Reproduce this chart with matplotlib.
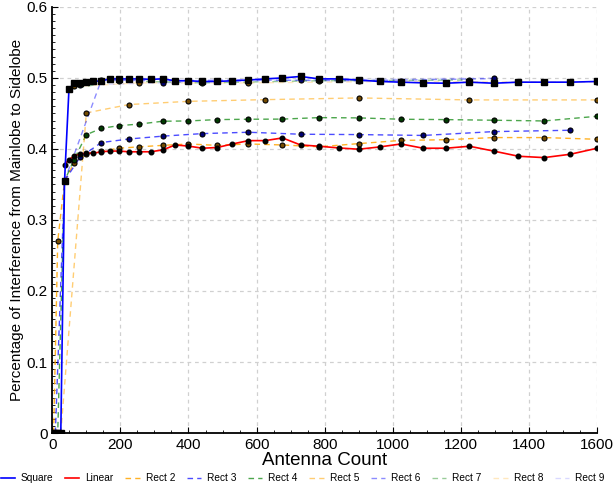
import matplotlib
matplotlib.use("Agg")
import matplotlib.pyplot as plt
from matplotlib.ticker import MultipleLocator
from matplotlib.lines import Line2D
import numpy as np

plt.rcParams['font.family'] = ['Liberation Sans', 'DejaVu Sans']

# ---- data ----
square_x = [1, 4, 9, 16, 25, 36, 49, 64, 81, 100, 121, 144, 169, 196, 225, 256, 289, 324, 361, 400,
            441, 484, 529, 576, 625, 676, 729, 784, 841, 900, 961, 1024, 1089, 1156, 1225, 1296,
            1369, 1444, 1521, 1600]
square_y = [0, 0, 0, 0, 0, 0.355, 0.484, 0.493, 0.493, 0.494, 0.495, 0.496, 0.4986, 0.4986, 0.4986,
            0.4986, 0.498, 0.4986, 0.496, 0.496, 0.495, 0.495, 0.496, 0.497, 0.4986, 0.500, 0.502,
            0.4986, 0.4986, 0.497, 0.495, 0.494, 0.493, 0.4925, 0.494, 0.4925, 0.494, 0.494, 0.494, 0.495]

linear_x = [36, 49, 64, 81, 100, 121, 144, 169, 196, 225, 256, 289, 324, 361, 400, 441, 484, 529,
            576, 625, 676, 729, 784, 841, 900, 961, 1024, 1089, 1156, 1225, 1296, 1369, 1444, 1521, 1600]
linear_y = [0.378, 0.385, 0.390, 0.393, 0.394, 0.394, 0.396, 0.397, 0.397, 0.396, 0.396, 0.396, 0.3986,
            0.4056, 0.404, 0.401, 0.402, 0.407, 0.4117, 0.4117, 0.4155, 0.4056, 0.4038, 0.4014, 0.3996,
            0.4028, 0.407, 0.401, 0.401, 0.4038, 0.397, 0.3897, 0.3878, 0.3925, 0.401]

rect2_x = [4, 16, 36, 64, 100, 144, 196, 256, 324, 400, 484, 576, 676, 784, 900, 1024, 1156, 1296, 1444, 1600]
rect2_y = [0, 0.27, 0.355, 0.380, 0.393, 0.397, 0.401, 0.403, 0.405, 0.407, 0.405, 0.407, 0.4056, 0.403,
           0.4075, 0.412, 0.413, 0.416, 0.416, 0.4136]

rect3_x = [9, 36, 81, 144, 225, 324, 441, 576, 729, 900, 1089, 1296, 1521]
rect3_y = [0, 0.355, 0.388, 0.409, 0.414, 0.418, 0.4216, 0.4235, 0.4207, 0.4202, 0.419, 0.4244, 0.4263]

rect4_x = [4, 16, 36, 64, 100, 144, 196, 256, 324, 400, 484, 576, 676, 784, 900, 1024, 1156, 1296, 1444, 1600]
rect4_y = [0, 0, 0.355, 0.385, 0.420, 0.429, 0.4328, 0.435, 0.439, 0.4394, 0.4413, 0.4418, 0.442, 0.4441,
           0.4437, 0.4418, 0.4413, 0.4404, 0.4394, 0.446]

rect5_x = [25, 100, 225, 400, 625, 900, 1225, 1600]
rect5_y = [0, 0.4507, 0.4625, 0.467, 0.4694, 0.4718, 0.469, 0.469]

rect6_x = [36, 144, 324, 576, 900, 1296]
rect6_y = [0.355, 0.497, 0.496, 0.497, 0.496, 0.499]

rect7_x = [49, 196, 441, 784, 1225]
rect7_y = [0.484, 0.496, 0.493, 0.496, 0.497]

rect8_x = [64, 256, 576, 1024, 1600]
rect8_y = [0.488, 0.493, 0.493, 0.495, 0.494]

rect9_x = [81, 324, 729, 1296]
rect9_y = [0.490, 0.493, 0.497, 0.500]

x_ticks = [0, 200, 400, 600, 800, 1000, 1200, 1400, 1600]
y_ticks = [0, 0.1, 0.2, 0.3, 0.4, 0.5, 0.6]
y_tick_labels = ["0", "0.1", "0.2", "0.3", "0.4", "0.5", "0.6"]

fig = plt.figure(figsize=(6.15, 4.91), dpi=100)
ax = fig.add_axes([0.085, 0.118, 0.886, 0.868])

ax.plot(square_x, square_y, color='#0000ff', lw=1.2, marker='s', ms=3.8, mfc='black', mec='black',
        zorder=5)
ax.plot(linear_x, linear_y, color='#ff0000', lw=1.2, marker='o', ms=3.3, mfc='black', mec='black',
        zorder=4)

rects = [
    ('Rect 2', rect2_x, rect2_y, '#ffa500', 0.85),
    ('Rect 3', rect3_x, rect3_y, '#0000ff', 0.7),
    ('Rect 4', rect4_x, rect4_y, '#008000', 0.7),
    ('Rect 5', rect5_x, rect5_y, '#ffa500', 0.55),
    ('Rect 6', rect6_x, rect6_y, '#0000ff', 0.45),
    ('Rect 7', rect7_x, rect7_y, '#008000', 0.4),
    ('Rect 8', rect8_x, rect8_y, '#ffa500', 0.25),
    ('Rect 9', rect9_x, rect9_y, '#0000ff', 0.15),
]
handles = [Line2D([], [], color='#0000ff', lw=1.2),
           Line2D([], [], color='#ff0000', lw=1.2)]
labels = ['Square', 'Linear']
for name, xs, ys, c, a in rects:
    rgba = matplotlib.colors.to_rgba(c, a)
    ax.plot(xs, ys, color=rgba, lw=1.0, ls=(0, (4, 3)), zorder=3)
    base = np.array(matplotlib.colors.to_rgb(c))
    face = tuple(base * 0.45)
    ax.plot(xs, ys, ls='none', marker='o', ms=3.6, mfc=face, mec='black', mew=0.8, zorder=3.5)
    handles.append(Line2D([], [], color=rgba, lw=1.0, ls=(0, (4, 3))))
    labels.append(name)

ax.set_xlim(0, 1600)
ax.set_ylim(0, 0.6)
ax.set_xticks(x_ticks)
ax.set_yticks(y_ticks)
ax.set_yticklabels(y_tick_labels)
ax.xaxis.set_minor_locator(MultipleLocator(50))
ax.yaxis.set_minor_locator(MultipleLocator(0.01))
ax.tick_params(which='both', direction='in', labelsize=11)
ax.tick_params(which='major', length=4)
ax.tick_params(which='minor', length=2)
ax.grid(True, which='major', color='#d0d0d0', ls=(0, (3, 3)), lw=0.9)
ax.set_axisbelow(True)
for s in ['top', 'right']:
    ax.spines[s].set_visible(False)
for s in ['left', 'bottom']:
    ax.spines[s].set_linewidth(1.3)

ax.set_xlabel('Antenna Count', fontsize=13.5, labelpad=0)
ax.set_ylabel('Percentage of Interference from Mainlobe to Sidelobe', fontsize=11, labelpad=2)

fig.legend(handles, labels, loc='center', bbox_to_anchor=(0.492, 0.026), ncol=10, frameon=False,
           fontsize=7.3, handlelength=1.4, handletextpad=0.6, columnspacing=1.15)

fig.savefig('out.png', dpi=100)
